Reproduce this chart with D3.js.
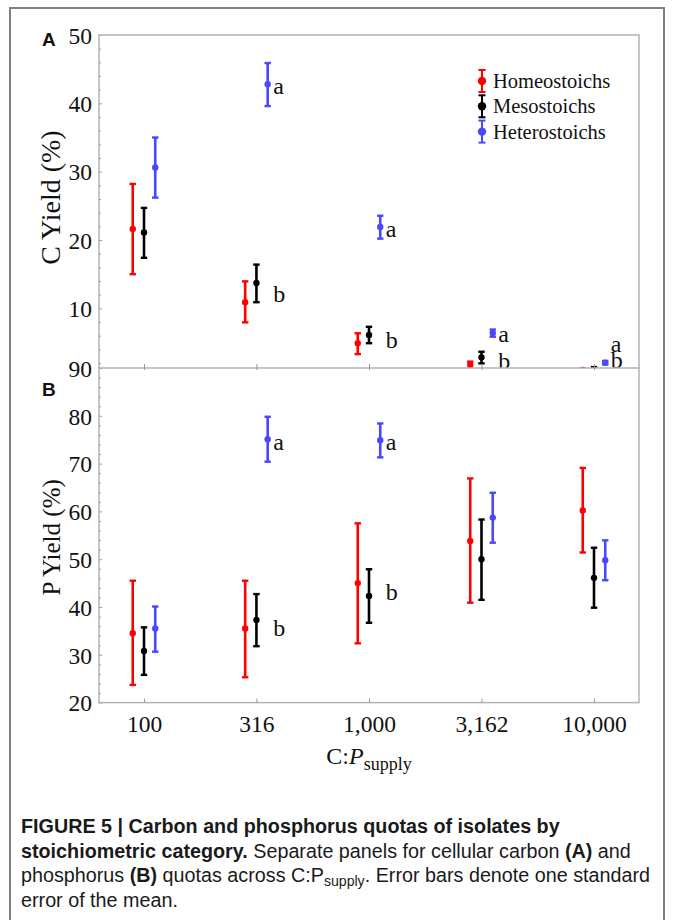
<!DOCTYPE html>
<html>
<head>
<meta charset="utf-8">
<script src="https://cdn.jsdelivr.net/npm/d3@7"></script>
<style>
  html, body { margin: 0; padding: 0; background: #fff; }
  svg { display: block; }
  .serif { font-family: "Liberation Serif", "Times New Roman", serif; fill: #111; }
  .axis text { font-family: "Liberation Serif", "Times New Roman", serif; font-size: 23.5px; fill: #111; }
  .axis line { stroke: #999; }
  .caption { font-family: "Liberation Sans Narrow", "Liberation Sans", Arial, sans-serif; font-size: 21px; fill: #1a1a1a; }
</style>
</head>
<body>
<svg id="fig" width="673" height="920"></svg>
<script>
const d3 = globalThis.d3;

// x categories (C:P supply) and their tick labels
const supply = [100, 316, 1000, 3162, 10000];
const supplyLabels = ["100", "316", "1,000", "3,162", "10,000"];

const categories = ["Homeostoichs", "Mesostoichs", "Heterostoichs"];
const categoryColors = ["#ff0000", "#000000", "#4848ff"];
const categoryDodge = [-0.05, 0, 0.05]; // offset in decades

// panel A: C yield (%) -- mean, lower and upper error-bar ends
const cHomeoMean = [21.6, 10.9, 4.9, 1.7, 1.0];
const cHomeoLo = [15.0, 7.95, 3.3, 1.2, 0.8];
const cHomeoHi = [28.2, 13.95, 6.35, 2.2, 1.2];
const cMesoMean = [21.1, 13.7, 6.1, 2.83, 0.9];
const cMesoLo = [17.4, 10.9, 4.9, 1.95, 0.5];
const cMesoHi = [24.7, 16.4, 7.3, 3.65, 1.4];
const cHeteroMean = [30.6, 42.8, 21.9, 6.4, 2.04];
const cHeteroLo = [26.2, 39.6, 20.2, 5.85, 1.8];
const cHeteroHi = [35.0, 45.9, 23.55, 6.9, 2.3];

// panel B: P yield (%)
const pHomeoMean = [34.5, 35.5, 45.0, 53.8, 60.2];
const pHomeoLo = [23.7, 25.3, 32.4, 40.9, 51.4];
const pHomeoHi = [45.5, 45.5, 57.5, 66.9, 69.1];
const pMesoMean = [30.8, 37.3, 42.3, 50.0, 46.1];
const pMesoLo = [25.8, 31.8, 36.7, 41.5, 39.85];
const pMesoHi = [35.75, 42.7, 47.9, 58.3, 52.4];
const pHeteroMean = [35.5, 75.1, 74.9, 58.7, 49.8];
const pHeteroLo = [30.65, 70.4, 71.3, 53.45, 45.6];
const pHeteroHi = [40.1, 79.8, 78.4, 63.9, 53.95];

// significance letters: [supply, value, letter]
const cLetters = [[316, 42.6, "a"], [316, 12.2, "b"], [1000, 21.7, "a"], [1000, 5.36, "b"],
  [3162, 6.34, "a"], [3162, 2.3, "b"], [10000, 4.8, "a"], [10000, 2.43, "b"]];
const pLetters = [[316, 74.6, "a"], [316, 35.7, "b"], [1000, 74.6, "a"], [1000, 43.2, "b"]];

const cTicks = [10, 20, 30, 40, 50];
const pTicks = [20, 30, 40, 50, 60, 70, 80, 90];

const svg = d3.select("#fig");
const left = 99, right = 639, topA = 35, mid = 368, bottomB = 702.6;
const frameColor = "#b2b2b2";

const x = d3.scaleLog().domain([10 ** 1.8, 10 ** 4.2]).range([left, right]);
const yA = d3.scaleLinear().domain([1.27, 50]).range([mid, topA]);
const yB = d3.scaleLinear().domain([20, 90]).range([bottomB, mid]);

const dodgeX = (s, k) => x(s * 10 ** categoryDodge[k]);

// outer figure border
svg.append("rect")
  .attr("x", 10).attr("y", 8).attr("width", 654).attr("height", 940)
  .attr("fill", "none").attr("stroke", "#808080").attr("stroke-width", 2);

svg.append("defs").append("clipPath").attr("id", "clipA")
  .append("rect").attr("x", left).attr("y", topA).attr("width", right - left).attr("height", mid - topA);

function seriesFor(means, lows, highs) {
  return categories.map((name, k) => ({
    name, k, color: categoryColors[k],
    points: supply.map((s, i) => ({ s, mean: means[k][i], lo: lows[k][i], hi: highs[k][i] }))
  }));
}

function drawErrorBars(g, y, series) {
  series.forEach(ser => {
    const sg = g.append("g").attr("stroke", ser.color).attr("fill", ser.color);
    ser.points.forEach(p => {
      const px = dodgeX(p.s, ser.k);
      sg.append("line").attr("x1", px).attr("x2", px)
        .attr("y1", y(p.lo)).attr("y2", y(p.hi)).attr("stroke-width", 2.6);
      [p.lo, p.hi].forEach(v => {
        sg.append("line").attr("x1", px - 3.2).attr("x2", px + 3.2)
          .attr("y1", y(v)).attr("y2", y(v)).attr("stroke-width", 2.4);
      });
      sg.append("circle").attr("cx", px).attr("cy", y(p.mean)).attr("r", 3.2).attr("stroke", "none");
    });
  });
}

function drawLetters(g, y, letters) {
  g.selectAll("text.letter")
    .data(letters)
    .join("text")
    .attr("class", "serif letter")
    .attr("x", d => dodgeX(d[0], 2) + 5.5)
    .attr("y", d => y(d[1]))
    .attr("dy", "0.35em")
    .attr("font-size", 24)
    .text(d => d[2]);
}

function drawLeftAxis(g, y, ticks, minor) {
  g.append("g").attr("class", "axis")
    .attr("transform", `translate(${left},0)`)
    .call(d3.axisLeft(y).tickValues(minor).tickSize(-2).tickFormat(""))
    .call(a => a.select(".domain").remove());
  g.append("g").attr("class", "axis")
    .attr("transform", `translate(${left},0)`)
    .call(d3.axisLeft(y).tickValues(ticks).tickSize(-3).tickPadding(7))
    .call(a => a.select(".domain").remove())
    .call(a => a.selectAll("text").attr("dy", "0.35em"));
}

// ---- panel A ----
const gA = svg.append("g");
drawLeftAxis(gA, yA, cTicks, d3.range(2, 50, 2).filter(v => v % 10 !== 0));
const marksA = gA.append("g").attr("clip-path", "url(#clipA)");
drawErrorBars(marksA, yA, seriesFor(
  [cHomeoMean, cMesoMean, cHeteroMean], [cHomeoLo, cMesoLo, cHeteroLo], [cHomeoHi, cMesoHi, cHeteroHi]));
drawLetters(marksA, yA, cLetters);

gA.append("path")
  .attr("d", `M${left},${mid}V${topA}H${right}V${mid}`)
  .attr("fill", "none").attr("stroke", frameColor).attr("stroke-width", 1.5);

gA.append("text").attr("class", "serif")
  .attr("transform", `translate(60,${(topA + mid) / 2 - 4}) rotate(-90)`)
  .attr("text-anchor", "middle").attr("font-size", 28)
  .text("C Yield (%)");

gA.append("text")
  .attr("x", 42).attr("y", 46)
  .attr("font-family", "Liberation Sans, Arial, sans-serif").attr("font-weight", "bold")
  .attr("font-size", 19).attr("fill", "#111").text("A");

// legend
const legend = gA.append("g").attr("transform", "translate(482,81)");
categories.forEach((name, k) => {
  const row = legend.append("g").attr("transform", `translate(0,${k * 25.3})`)
    .attr("stroke", categoryColors[k]).attr("fill", categoryColors[k]);
  row.append("line").attr("y1", -11).attr("y2", 11).attr("stroke-width", 2);
  [-11, 11].forEach(v => row.append("line").attr("x1", -3.5).attr("x2", 3.5)
    .attr("y1", v).attr("y2", v).attr("stroke-width", 2));
  row.append("circle").attr("r", 4.2).attr("stroke", "none");
  legend.append("text").attr("class", "serif")
    .attr("x", 11).attr("y", k * 25.3).attr("dy", "0.35em")
    .attr("font-size", 20.5).text(name);
});

// ---- panel B (drawn over the bottom of A) ----
const gB = svg.append("g");
gB.append("rect").attr("x", left).attr("y", mid).attr("width", right - left).attr("height", bottomB - mid)
  .attr("fill", "#fff");
drawLeftAxis(gB, yB, pTicks, d3.range(22, 90, 2).filter(v => v % 10 !== 0));
drawErrorBars(gB, yB, seriesFor(
  [pHomeoMean, pMesoMean, pHeteroMean], [pHomeoLo, pMesoLo, pHeteroLo], [pHomeoHi, pMesoHi, pHeteroHi]));
drawLetters(gB, yB, pLetters);

gB.append("rect").attr("x", left).attr("y", mid).attr("width", right - left).attr("height", bottomB - mid)
  .attr("fill", "none").attr("stroke", frameColor).attr("stroke-width", 1.5);

// x ticks at the A/B seam and bottom axis
gB.append("g").attr("class", "axis")
  .attr("transform", `translate(0,${mid + 2})`)
  .call(d3.axisBottom(x).tickValues(supply).tickSize(-6).tickFormat(""))
  .call(a => a.select(".domain").remove());
gB.append("g").attr("class", "axis")
  .attr("transform", `translate(0,${bottomB})`)
  .call(d3.axisBottom(x).tickValues(supply).tickSize(-4).tickPadding(13)
    .tickFormat((d, i) => supplyLabels[i]))
  .call(a => a.select(".domain").remove());

gB.append("text").attr("class", "serif")
  .attr("transform", `translate(60,${(mid + bottomB) / 2 + 2}) rotate(-90)`)
  .attr("text-anchor", "middle").attr("font-size", 25)
  .text("P Yield (%)");

gB.append("text")
  .attr("x", 42).attr("y", 396)
  .attr("font-family", "Liberation Sans, Arial, sans-serif").attr("font-weight", "bold")
  .attr("font-size", 19).attr("fill", "#111").text("B");

const xTitle = gB.append("text").attr("class", "serif")
  .attr("x", x(1000)).attr("y", 764).attr("text-anchor", "middle").attr("font-size", 24);
xTitle.append("tspan").text("C:");
xTitle.append("tspan").attr("font-style", "italic").text("P");
xTitle.append("tspan").attr("font-size", 18).attr("dy", 6).text("supply");

// ---- caption ----
const captionLines = [
  [["b", "FIGURE 5 | Carbon and phosphorus quotas of isolates by"]],
  [["b", "stoichiometric category."], ["r", " Separate panels for cellular carbon "], ["b", "(A)"], ["r", " and"]],
  [["r", "phosphorus "], ["b", "(B)"], ["r", " quotas across C:P"], ["s", "supply"], ["r", ". Error bars denote one standard"]],
  [["r", "error of the mean."]]
];
const cap = svg.append("g").attr("class", "caption");
captionLines.forEach((parts, li) => {
  const t = cap.append("text").attr("x", 0).attr("y", 833 + li * 24.7);
  parts.forEach(([kind, str]) => {
    const ts = t.append("tspan").text(str);
    if (kind === "b") ts.attr("font-weight", "bold");
    if (kind === "s") ts.attr("font-size", 15).attr("dy", 4);
    if (kind === "r" && str.startsWith(". Error")) ts.attr("dy", -4);
  });
});
// squeeze the caption to the condensed width of the original
const firstWidth = cap.select("text").node().getComputedTextLength();
const squeeze = 539 / firstWidth;
cap.attr("transform", `translate(21,0) scale(${squeeze},1)`);
</script>
</body>
</html>
